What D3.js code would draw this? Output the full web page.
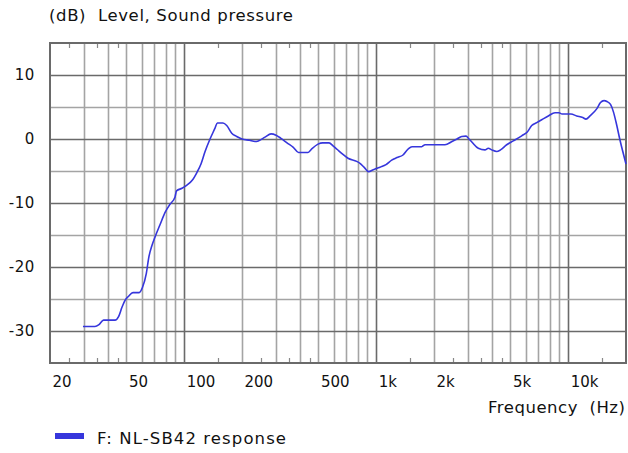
<!DOCTYPE html>
<html><head><meta charset="utf-8">
<script src="https://cdn.jsdelivr.net/npm/d3@7"></script>
<style>
html,body{margin:0;padding:0;background:#fff;}
text{font-family:"DejaVu Sans",Verdana,sans-serif;fill:#111;white-space:pre;}
</style>
</head><body>
<svg id="chart" width="628" height="453"></svg>
<script>
// ---- data ----
const freqs = [29.7,34.3,36,38,43.6,45.6,47.4,49.2,51.2,54.1,
58.2,60.6,63.5,65.3,68,70.5,74.8,79.4,84.3,89.5,
91.2,97.4,103.4,109.8,116.6,122.3,128.3,136.3,144.7,148.7,
159.2,166.5,176.8,187.7,200,218.8,233.8,243.2,263.6,283.2,
300.8,319.2,343.2,370,393.8,441.4,463,497.6,526.4,567.8,
597.8,625,663.6,713,791,823,864,912,966,1047,
1125,1204,1283,1379,1464,1536,1726,1796,2282,2482,
2636,2788,2936,3044,3156,3402,3686,3836,3996,4242,
4440,4782,5176,5726,6122,6456,6854,7278,7876,8536,
8954,9284,10338,11070,11900,12380,12988,14076,14732,15366,
15924,16610,17218,17742,18618,20000];
const levels = [-29.3,-29.3,-29.0,-28.3,-28.3,-27.7,-26.3,-25.2,-24.6,-24.0,
-24.0,-23.2,-21.0,-18.6,-16.6,-15.3,-13.4,-11.5,-10.2,-9.1,
-8.1,-7.7,-7.2,-6.5,-5.2,-3.9,-2.0,0.0,1.7,2.5,
2.5,2.1,0.9,0.4,0.0,-0.2,-0.4,-0.3,0.3,0.8,
0.6,0.1,-0.6,-1.3,-2.1,-2.1,-1.5,-0.8,-0.6,-0.6,
-1.1,-1.6,-2.3,-3.0,-3.5,-3.8,-4.4,-5.1,-4.8,-4.4,
-4.0,-3.3,-2.9,-2.5,-1.6,-1.2,-1.2,-0.9,-0.9,-0.4,
0.0,0.4,0.45,0.0,-0.5,-1.45,-1.7,-1.45,-1.7,-1.95,
-1.7,-0.9,-0.3,0.5,1.1,2.1,2.55,3.0,3.6,4.1,
4.1,3.9,3.9,3.6,3.35,3.1,3.6,4.7,5.7,6.0,
5.85,5.4,4.2,2.65,-0.2,-3.9];
const xTickValues = [20,50,100,200,500,1000,2000,5000,10000];
const xTickLabels = ["20","50","100","200","500","1k","2k","5k","10k"];
const yTickValues = [10,0,-10,-20,-30];
const yTickLabels = ["10","0","-10","-20","-30"];
const titleText = "(dB)  Level, Sound pressure";
const xTitleText = "Frequency  (Hz)";
const seriesName = "F: NL-SB42 response";

// ---- layout ----
const L = 50, R = 626, T = 43, B = 363;
const curveColor = "#3636dc";
const svg = d3.select("#chart");
const x = d3.scaleLog().domain([20, 20000]).range([L, R]);
const y = d3.scaleLinear().domain([-35, 15]).range([B, T]);

// grid
const g = svg.append("g");
const minorV = x.ticks().filter(v => v > 20 && v < 20000);
g.selectAll(".vmin").data(minorV).enter().append("line")
  .attr("x1", d => Math.round(x(d)) + 0.5).attr("x2", d => Math.round(x(d)) + 0.5)
  .attr("y1", T).attr("y2", B)
  .attr("stroke", d => [100,1000,10000].includes(d) ? "#6a6a6a" : "#a4a4a4")
  .attr("stroke-width", 1.6);
const hLines = d3.range(-30, 15, 5);
g.selectAll(".h").data(hLines).enter().append("line")
  .attr("x1", L).attr("x2", R)
  .attr("y1", d => Math.round(y(d)) + 0.5).attr("y2", d => Math.round(y(d)) + 0.5)
  .attr("stroke", d => d % 10 === 0 ? "#6a6a6a" : "#a4a4a4")
  .attr("stroke-width", 1.6);

// half ticks
const halfTicks = [];
[10,100,1000,10000].forEach(dec => [1.5,2.5,3.5,4.5].forEach(m => {
  const v = m*dec; if (v > 20 && v < 20000) halfTicks.push(v);
}));
g.selectAll(".ht").data(halfTicks).enter().append("line")
  .attr("x1", d => Math.round(x(d)) + 0.5).attr("x2", d => Math.round(x(d)) + 0.5)
  .attr("y1", T).attr("y2", T + 5).attr("stroke", "#888").attr("stroke-width", 1.2);
g.selectAll(".hb").data(halfTicks).enter().append("line")
  .attr("x1", d => Math.round(x(d)) + 0.5).attr("x2", d => Math.round(x(d)) + 0.5)
  .attr("y1", B - 5).attr("y2", B).attr("stroke", "#888").attr("stroke-width", 1.2);

// border
g.append("rect").attr("x", L).attr("y", T).attr("width", R - L).attr("height", B - T)
  .attr("fill", "none").attr("stroke", "#6a6a6a").attr("stroke-width", 2);

// axes labels
const yAxis = d3.axisLeft(y).tickValues(yTickValues)
  .tickFormat((d, i) => yTickLabels[i]).tickSize(0).tickPadding(0);
const ya = svg.append("g").attr("transform", "translate(35,0)").call(yAxis);
ya.select(".domain").remove();
ya.selectAll("text").attr("font-size", 15).attr("font-family", "DejaVu Sans")
  .attr("fill", "#111").attr("letter-spacing", 0.6);

const xAxis = d3.axisBottom(x).tickValues(xTickValues)
  .tickFormat((d, i) => xTickLabels[i]).tickSize(0).tickPadding(0);
const xa = svg.append("g").attr("transform", "translate(0,376)").call(xAxis);
xa.select(".domain").remove();
xa.selectAll("text").attr("font-size", 15).attr("font-family", "DejaVu Sans")
  .attr("fill", "#111").attr("text-anchor", "start").attr("dx", 2).attr("dy", "0.71em");

svg.append("text").attr("x", 49).attr("y", 21).attr("font-size", 16.5)
  .attr("textLength", 244).attr("lengthAdjust", "spacing").text(titleText);
svg.append("text").attr("x", 488).attr("y", 413).attr("font-size", 16.5)
  .attr("textLength", 137).attr("lengthAdjust", "spacing").text(xTitleText);

// curve
const pts = freqs.map((f, i) => [f, levels[i]]);
const lineGen = d3.line().x(d => x(d[0])).y(d => y(d[1])).curve(d3.curveMonotoneX);
svg.append("path").datum(pts).attr("d", lineGen)
  .attr("fill", "none").attr("stroke", curveColor).attr("stroke-width", 1.6);

// legend
svg.append("rect").attr("x", 55).attr("y", 433).attr("width", 29).attr("height", 6).attr("fill", curveColor);
svg.append("text").attr("x", 97).attr("y", 444).attr("font-size", 16.5)
  .attr("textLength", 189).attr("lengthAdjust", "spacing").text(seriesName);
</script>
</body></html>
